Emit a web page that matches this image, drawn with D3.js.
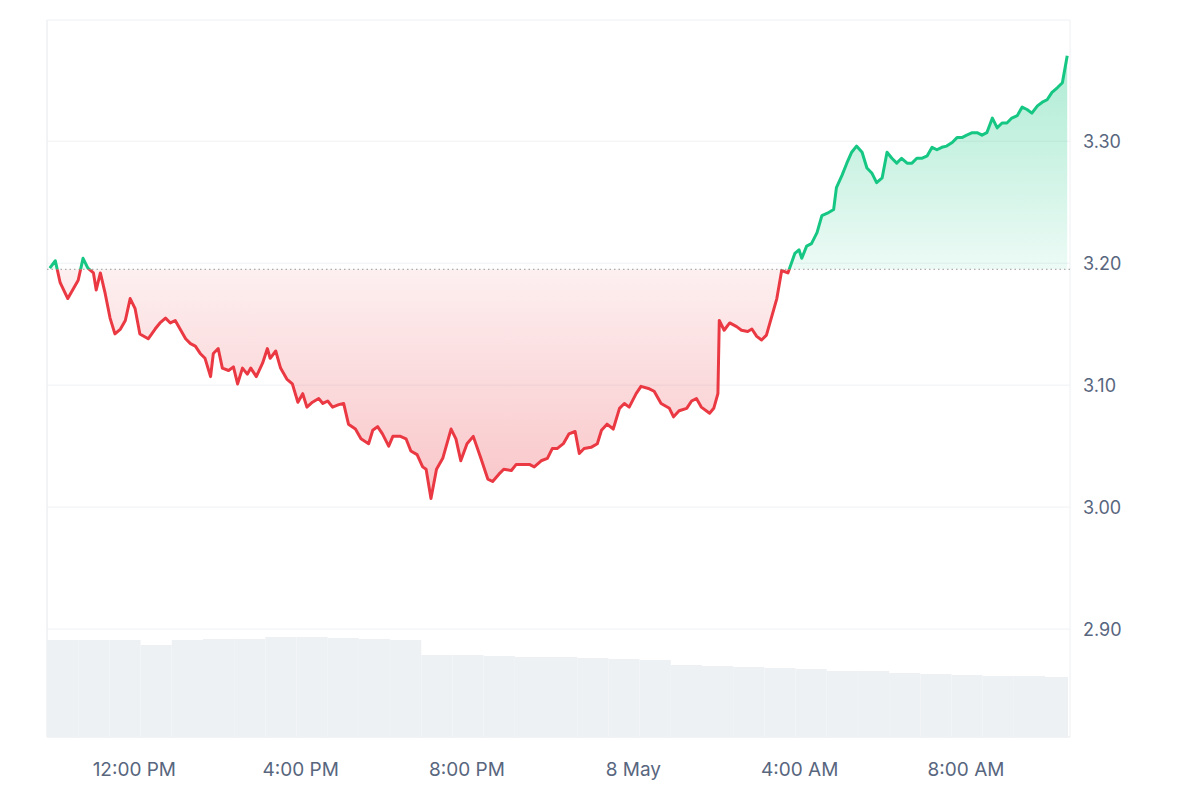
<!DOCTYPE html><html><head><meta charset="utf-8"><script src="https://cdn.jsdelivr.net/npm/d3@7"></script>
<style>body{margin:0;background:#fff}text{font-family:Inter,"Noto Sans",sans-serif}</style></head><body><svg id="c" width="1200" height="800"></svg><script>
const startTime = new Date(2024,4,7,9,54);
const minutes=[4,12,19,30,45,52,59,67,71,77,84,91,98,106,113,120,127,134,146,156,163,171,178,185,192,200,207,214,221,228,236,240,247,253,262,269,275,282,289,294,302,311,318,322,330,337,346,354,362,369,375,383,392,398,405,412,421,428,435,445,453,464,470,477,484,493,499,510,518,525,534,542,547,554,562,571,583,590,597,606,615,626,636,643,652,659,670,677,684,696,703,713,722,729,736,745,753,762,768,775,785,794,800,808,817,826,833,840,850,857,869,876,886,898,904,912,923,930,937,944,956,962,968,970,977,985,995,1002,1011,1017,1024,1031,1038,1045,1053,1060,1069,1074,1079,1085,1089,1096,1103,1111,1118,1126,1135,1139,1147,1154,1161,1168,1176,1183,1190,1197,1205,1212,1219,1226,1233,1241,1248,1255,1262,1270,1277,1284,1291,1298,1306,1313,1320,1327,1335,1342,1349,1356,1364,1371,1378,1385,1392,1400,1407,1414,1421,1429,1436,1443,1450,1458,1465,1472];
const prices=[3.196,3.202,3.184,3.171,3.186,3.204,3.196,3.192,3.178,3.192,3.175,3.155,3.142,3.146,3.153,3.171,3.163,3.142,3.138,3.146,3.151,3.155,3.151,3.153,3.146,3.138,3.134,3.132,3.126,3.122,3.107,3.126,3.130,3.114,3.112,3.115,3.101,3.114,3.109,3.114,3.107,3.118,3.130,3.122,3.128,3.114,3.105,3.101,3.086,3.093,3.082,3.086,3.089,3.085,3.087,3.082,3.084,3.085,3.068,3.064,3.056,3.052,3.063,3.066,3.060,3.050,3.058,3.058,3.056,3.046,3.043,3.033,3.031,3.007,3.031,3.040,3.064,3.056,3.038,3.052,3.058,3.040,3.023,3.021,3.027,3.031,3.030,3.035,3.035,3.035,3.033,3.038,3.040,3.048,3.048,3.052,3.060,3.062,3.044,3.048,3.049,3.052,3.063,3.068,3.064,3.081,3.085,3.082,3.093,3.099,3.097,3.095,3.085,3.081,3.074,3.079,3.081,3.087,3.089,3.082,3.077,3.081,3.093,3.153,3.145,3.151,3.148,3.145,3.144,3.146,3.140,3.137,3.141,3.155,3.171,3.194,3.192,3.200,3.208,3.211,3.204,3.214,3.216,3.225,3.239,3.241,3.244,3.262,3.272,3.282,3.291,3.296,3.291,3.278,3.274,3.266,3.270,3.291,3.286,3.282,3.286,3.282,3.282,3.286,3.286,3.288,3.295,3.293,3.295,3.296,3.299,3.303,3.303,3.305,3.307,3.307,3.305,3.307,3.319,3.311,3.315,3.315,3.319,3.321,3.328,3.326,3.323,3.329,3.332,3.334,3.340,3.344,3.348,3.370];
const baseline=3.195;
const volumes=[97,97,97,92,97,98,98,100,100,99,98,97,82,82,81,80,80,79,78,77,72,71,70,69,68,66,66,64,63,62,61,61,60,60];
const yTicks=[2.9,3.0,3.1,3.2,3.3];
const xTickLabels=[["12:00 PM",new Date(2024,4,7,12)],["4:00 PM",new Date(2024,4,7,16)],["8:00 PM",new Date(2024,4,7,20)],["8 May",new Date(2024,4,8,0)],["4:00 AM",new Date(2024,4,8,4)],["8:00 AM",new Date(2024,4,8,8)]];

const svg=d3.select("#c");
const L=47,R=1070,T=20,B=737;
const data=minutes.map((m,i)=>({t:new Date(+startTime+m*60000),p:prices[i]}));
const x=d3.scaleTime().domain([startTime,new Date(+startTime+1476*60000)]).range([L,R]);
const y=d3.scaleLinear().domain([2.8115,3.3994]).range([B,T]);
svg.append("line").attr("x1",L).attr("x2",L).attr("y1",T).attr("y2",B).attr("stroke","#e6e8eb");
svg.append("line").attr("x1",R).attr("x2",R).attr("y1",T).attr("y2",B).attr("stroke","#eef0f2");
svg.append("line").attr("x1",L).attr("x2",R).attr("y1",T).attr("y2",T).attr("stroke","#eef0f2");
svg.append("line").attr("x1",L).attr("x2",R).attr("y1",B).attr("y2",B).attr("stroke","#e6e8eb");
yTicks.forEach(v=>{
 svg.append("line").attr("x1",L).attr("x2",R).attr("y1",y(v)).attr("y2",y(v)).attr("stroke","#eff1f3");
 svg.append("text").attr("x",1083).attr("y",y(v)+7).attr("font-size",18).attr("fill","#58667e").text(v.toFixed(2));
});
xTickLabels.forEach(([l,d])=>svg.append("text").attr("x",x(d)).attr("y",776).attr("text-anchor","middle").attr("font-size",19).attr("fill","#58667e").text(l));
const vy=d3.scaleLinear().domain([0,100]).range([0,100]);
volumes.forEach((v,i)=>{
 const x0=x(new Date(+startTime+i*2700000)); const w=x(new Date(+startTime+(i+1)*2700000))-x0;
 if(x0>=R) return;
 svg.append("rect").attr("x",x0).attr("width",Math.min(w,R-2-x0)).attr("y",B-vy(v)).attr("height",vy(v)).attr("fill","#eef1f4");
});
const defs=svg.append("defs");
const g1=defs.append("linearGradient").attr("id","gr").attr("x1",0).attr("x2",0).attr("gradientUnits","userSpaceOnUse").attr("y1",y(baseline)).attr("y2",y(3.0));
g1.append("stop").attr("offset",0).attr("stop-color","#ea3943").attr("stop-opacity",0.08);
g1.append("stop").attr("offset",1).attr("stop-color","#ea3943").attr("stop-opacity",0.3);
const g2=defs.append("linearGradient").attr("id","gg").attr("x1",0).attr("x2",0).attr("gradientUnits","userSpaceOnUse").attr("y1",y(3.37)).attr("y2",y(baseline));
g2.append("stop").attr("offset",0).attr("stop-color","#16c784").attr("stop-opacity",0.35);
g2.append("stop").attr("offset",1).attr("stop-color","#16c784").attr("stop-opacity",0.08);
const by=y(baseline);
defs.append("clipPath").attr("id","below").append("rect").attr("x",0).attr("y",by).attr("width",1200).attr("height",800);
defs.append("clipPath").attr("id","above").append("rect").attr("x",0).attr("y",0).attr("width",1200).attr("height",by);
const area=d3.area().x(d=>x(d.t)).y0(by).y1(d=>y(d.p));
const line=d3.line().x(d=>x(d.t)).y(d=>y(d.p));
svg.append("path").datum(data).attr("d",area).attr("fill","url(#gr)").attr("clip-path","url(#below)");
svg.append("path").datum(data).attr("d",area).attr("fill","url(#gg)").attr("clip-path","url(#above)");
svg.append("line").attr("x1",L).attr("x2",R).attr("y1",by).attr("y2",by).attr("stroke","#999").attr("stroke-dasharray","1.5,3");
svg.append("path").datum(data).attr("d",line).attr("fill","none").attr("stroke","#ea3943").attr("stroke-width",3).attr("stroke-linejoin","round").attr("clip-path","url(#below)");
svg.append("path").datum(data).attr("d",line).attr("fill","none").attr("stroke","#16c784").attr("stroke-width",3).attr("stroke-linejoin","round").attr("clip-path","url(#above)");
</script></body></html>
